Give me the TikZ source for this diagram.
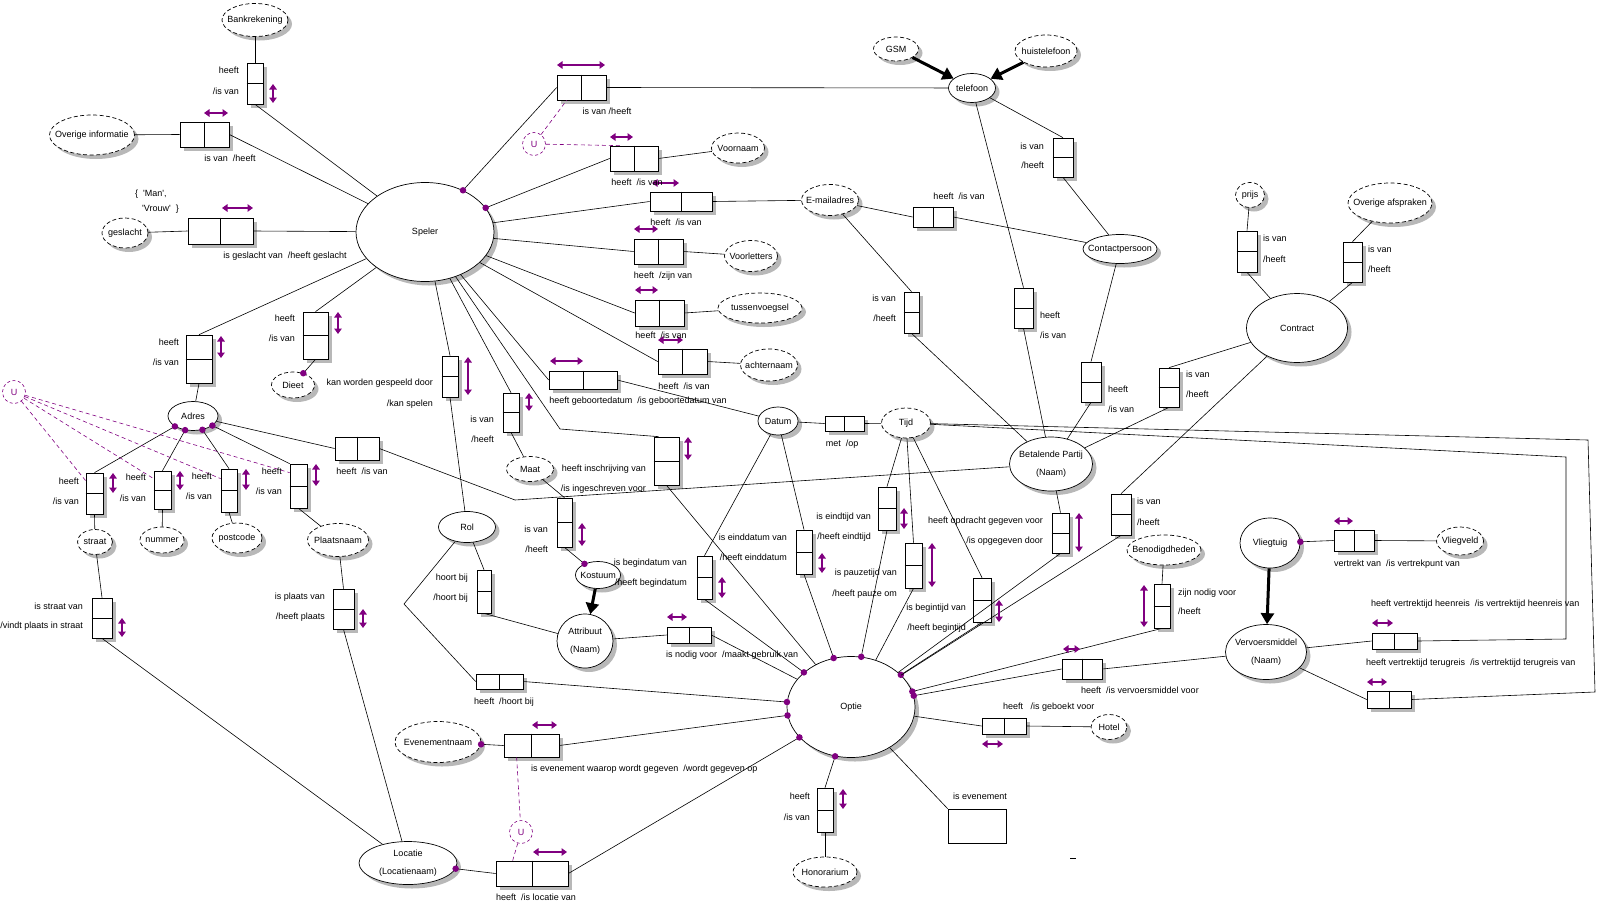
\documentclass[tikz,border=0pt]{standalone}
\usepackage{fontspec}
\setmainfont{Liberation Sans}
\usetikzlibrary{shapes.geometric,shadows,arrows.meta}
\definecolor{pur}{RGB}{128,0,128}
\newcommand\RH[5]{\node[rb,minimum width=#4pt,minimum height=#5pt] (#1) at (#2,#3) {}; \draw[ln] (#1.north) -- (#1.south);}
\newcommand\RV[5]{\node[rb,minimum width=#4pt,minimum height=#5pt] (#1) at (#2,#3) {}; \draw[ln] (#1.west) -- (#1.east);}
\newcommand\EN[7]{\node[#2,minimum width=#5pt,minimum height=#6pt] (#1) at (#3,#4) {}; \node[align=center,font=\fontsize{9}{18}\selectfont] (#1t) at (#1.center) {#7};}
\newcommand\Lb[5]{\node[anchor=#2] (#1) at (#3,#4) {#5};}
\newcommand\sq{\textquotesingle}
\begin{document}
\begin{tikzpicture}[x=1pt,y=-1pt,
  every node/.style={font=\fontsize{9}{10}\selectfont, inner sep=0pt},
  sh/.style={drop shadow={shadow xshift=4pt,shadow yshift=-4pt,opacity=1,fill=black!28}},
  ent/.style={ellipse,draw,fill=white,line width=0.7pt,sh},
  val/.style={ent,dash pattern=on 4pt off 2.5pt},
  rb/.style={rectangle,draw,fill=white,line width=0.7pt,sh},
  ln/.style={line width=0.6pt},
  parr/.style={pur,line width=1.3pt,{Triangle[length=5.5pt,width=7.5pt]}-{Triangle[length=5.5pt,width=7.5pt]}},
  dot/.style={circle,fill=pur,minimum size=6.5pt},
  udash/.style={pur,dash pattern=on 4pt off 3pt,line width=0.6pt},
  ucirc/.style={circle,draw=pur,dash pattern=on 3pt off 2.5pt,text=pur,minimum size=23pt,line width=0.6pt},
  subt/.style={line width=3pt,-{Triangle[length=11pt,width=13pt]}},
]
\useasboundingbox (0,0) rectangle (1597,913);
% ---------- entities / values
\EN{eSpeler}{ent}{425}{232}{138}{99}{Speler}
\EN{eOptie}{ent}{851}{707}{128}{101}{Optie}
\EN{eBank}{val}{255}{20}{66}{33}{Bankrekening}
\EN{eOvInf}{val}{92}{135}{85}{40}{Overige informatie}
\EN{eGesl}{val}{125}{233}{46}{30}{geslacht}
\EN{eVoorn}{val}{738}{148}{53}{30}{Voornaam}
\EN{eVoorl}{val}{751}{256}{53}{31}{Voorletters}
\EN{eTussen}{val}{760}{308}{84}{30}{tussenvoegsel}
\EN{eAchter}{val}{769}{365}{57}{32}{achternaam}
\EN{eEmail}{val}{830}{200}{57}{31}{E-mailadres}
\EN{eTel}{ent}{972}{88}{47}{29}{telefoon}
\EN{eGSM}{val}{896}{49}{45}{24}{GSM}
\EN{eHuis}{val}{1046}{51}{62}{32}{huistelefoon}
\EN{eCP}{ent}{1120}{249}{74}{29}{Contactpersoon}
\EN{ePrijs}{val}{1250}{195}{29}{25}{prijs}
\EN{eAfspr}{val}{1390}{203}{84}{40}{Overige afspraken}
\EN{eContract}{ent}{1297}{328}{101}{69}{Contract}
\EN{eAdres}{ent}{193}{416}{50}{29}{Adres}
\EN{eDieet}{val}{293}{385}{43}{26}{Dieet}
\EN{eStraat}{val}{95}{542}{35}{25}{straat}
\EN{eNummer}{val}{162}{540}{44}{26}{nummer}
\EN{ePostcode}{val}{237}{538}{50}{30}{postcode}
\EN{ePlaats}{val}{338}{540}{61}{33}{Plaatsnaam}
\EN{eRol}{ent}{467}{527}{57}{31}{Rol}
\EN{eMaat}{val}{530}{469}{47}{25}{Maat}
\EN{eKostuum}{ent}{598}{575}{45}{27}{Kostuum}
\EN{eAttr}{ent}{585}{641}{56}{54}{Attribuut\\(Naam)}
\EN{eDatum}{ent}{778}{421}{40}{28}{Datum}
\EN{eTijd}{val}{906}{423}{49}{30}{Tijd}
\EN{eBP}{ent}{1051}{464}{83}{54}{Betalende Partij\\(Naam)}
\EN{eBenod}{val}{1164}{550}{74}{30}{Benodigdheden}
\EN{eVliegtuig}{ent}{1270}{543}{60}{50}{Vliegtuig}
\EN{eVliegveld}{val}{1460}{541}{47}{28}{Vliegveld}
\EN{eVerv}{ent}{1266}{652}{81}{55}{Vervoersmiddel\\(Naam)}
\EN{eHotel}{val}{1109}{727}{36}{25}{Hotel}
\EN{eHonor}{val}{825}{872}{64}{30}{Honorarium}
\EN{eEven}{val}{438}{742}{86}{41}{Evenementnaam}
\EN{eLoc}{ent}{408}{863}{98}{43}{Locatie\\(Locatienaam)}
\node[ucirc] (U1) at (14,392) {U};
\node[ucirc] (U2) at (521,832) {U};
\node[ucirc] (U3) at (534,144) {U};
% ---------- role boxes
\RV{bBank}{255}{83.5}{16}{41}
\RH{bOvInf}{204.5}{134.5}{49}{25}
\RH{bGesl}{220.5}{231}{65}{26}
\RH{bTel}{581.5}{87.5}{49}{25}
\RH{bVoorn}{634}{158.5}{48}{25}
\RH{bEmailS}{681}{201.5}{62}{19}
\RH{bVoorl}{658.5}{251.5}{49}{25}
\RH{bTussen}{659.5}{313}{49}{26}
\RH{bAchter}{682.5}{361.5}{49}{25}
\RH{bGeb}{583}{380}{68}{18}
\RV{bDieet}{315.5}{335.5}{25}{47}
\RV{bSpeelt}{450}{376.5}{16}{41}
\RV{bAdres}{199}{359}{26}{48}
\RV{bStraat}{94.5}{493.5}{17}{41}
\RV{bNummer}{162.5}{490}{17}{38}
\RV{bPostcode}{229}{490.5}{16}{43}
\RV{bPlaats}{298.5}{486}{17}{44}
\RH{bAdresBP}{357}{448.5}{44}{23}
\RV{bInschr}{666.5}{461}{25}{48}
\RV{bMaat}{511}{412.5}{16}{39}
\RV{bKostuum}{564.5}{522.5}{15}{49}
\RV{bBegind}{704.5}{577.5}{15}{43}
\RV{bEindd}{804}{552}{16}{44}
\RV{bEindt}{887}{508.5}{18}{43}
\RV{bPauze}{913.5}{565.5}{17}{45}
\RV{bBegint}{982}{600}{18}{44}
\RV{bOpdr}{1060.5}{533}{17}{40}
\RV{bContrOpt}{1121}{514.5}{20}{41}
\RV{bBenod}{1162}{606}{16}{44}
\RH{bVervO}{1082}{669}{40}{20}
\RH{bHotel}{1004}{726}{44}{16}
\RV{bHonor}{825}{810}{16}{44}
\RH{bAttr}{689}{635}{44}{16}
\RV{bHoort}{484}{591.5}{14}{43}
\RH{bHeeftHoort}{499.5}{681.5}{47}{15}
\RH{bEven}{531.5}{745.5}{55}{23}
\RH{bLoc}{532}{873.5}{72}{25}
\RV{bStraatLoc}{102}{618}{20}{40}
\RV{bPlaatsLoc}{343.5}{609}{21}{40}
\RV{bPrijs}{1247}{251.5}{20}{41}
\RV{bAfspr}{1352.5}{262}{19}{40}
\RV{bContrBP}{1169}{387.5}{20}{39}
\RV{bTelBP}{1023.5}{308}{19}{40}
\RV{bEmailBP}{911.5}{312.5}{15}{41}
\RV{bCPBP}{1091}{382}{20}{40}
\RV{bTelCP}{1063}{157.5}{20}{39}
\RH{bEmailCP}{933}{217}{40}{20}
\RH{bMetOp}{844.5}{423.5}{39}{15}
\RH{bVliegveld}{1354}{540.5}{40}{21}
\RH{bHeen}{1394.5}{641}{45}{16}
\RH{bTerug}{1389}{699.5}{44}{17}
\node[draw,line width=0.7pt,minimum width=58pt,minimum height=34pt] (rEven) at (977,826) {};
% ---------- bend points
\coordinate (cInschr) at (560,429);
\coordinate (cAB) at (515,500);
\coordinate (cRol) at (404,604);
\coordinate (cH1) at (1566,639);
\coordinate (cH2) at (1566,457);
\coordinate (cT1) at (1595,692);
\coordinate (cT2) at (1588,440);
% ---------- connectors
\begin{scope}[ln]
\draw (eBank) -- (bBank.north);
\draw (bBank.south) -- (eSpeler);
\draw (eOvInf) -- (bOvInf.west);
\draw (bOvInf.east) -- (eSpeler);
\draw (eGesl) -- (bGesl.west);
\draw (bGesl.east) -- (eSpeler);
\draw (bTel.west) -- (eSpeler) node[dot,pos=1] (d1) {};
\draw (bTel.east) -- (eTel);
\draw (bVoorn.west) -- (eSpeler) node[dot,pos=1] (d2) {};
\draw (bVoorn.east) -- (eVoorn);
\draw (bEmailS.west) -- (eSpeler);
\draw (bEmailS.east) -- (eEmail);
\draw (bVoorl.west) -- (eSpeler);
\draw (bVoorl.east) -- (eVoorl);
\draw (bTussen.west) -- (eSpeler);
\draw (bTussen.east) -- (eTussen);
\draw (bAchter.west) -- (eSpeler);
\draw (bAchter.east) -- (eAchter);
\draw (bGeb.west) -- (eSpeler);
\draw (bGeb.east) -- (eDatum);
\draw (bDieet.north) -- (eSpeler);
\draw (bDieet.south) -- (eDieet) node[dot,pos=1] (d3) {};
\draw (bSpeelt.north) -- (eSpeler);
\draw (bSpeelt.south) -- (eRol);
\draw (bAdres.north) -- (eSpeler);
\draw (bAdres.south) -- (eAdres);
\draw (bMaat.north) -- (eSpeler);
\draw (bMaat.south) -- (eMaat);
\draw ([xshift=5pt]bInschr.north west) -- (cInschr) -- (eSpeler);
\draw (bInschr.south) -- (eOptie);
\draw (bStraat.north) -- (eAdres) node[dot,pos=1] (d4) {};
\draw (bStraat.south) -- (eStraat);
\draw (bNummer.north) -- (eAdres) node[dot,pos=1] (d5) {};
\draw (bNummer.south) -- (eNummer);
\draw (bPostcode.north) -- (eAdres) node[dot,pos=1] (d6) {};
\draw (bPostcode.south) -- (ePostcode);
\draw (bPlaats.north west) -- (eAdres) node[dot,pos=1] (d7) {};
\draw (bPlaats.south) -- (ePlaats);
\draw (eAdres) -- (bAdresBP.west);
\draw (bAdresBP.east) -- (cAB) -- (eBP);
\draw (eStraat) -- (bStraatLoc.north);
\draw (bStraatLoc.south) -- (eLoc);
\draw (ePlaats) -- (bPlaatsLoc.north);
\draw (bPlaatsLoc.south) -- (eLoc);
\draw (bLoc.west) -- (eLoc) node[dot,pos=1] (d8) {};
\draw (bLoc.east) -- (eOptie) node[dot,pos=1] (d9) {};
\draw (bEven.west) -- (eEven) node[dot,pos=1] (d10) {};
\draw (bEven.east) -- (eOptie) node[dot,pos=1] (d11) {};
\draw (eMaat) -- (bKostuum.north);
\draw (bKostuum.south) -- (eKostuum) node[dot,pos=1] (d12) {};
\draw (eRol) -- (bHoort.north);
\draw (bHoort.south) -- (eAttr);
\draw (eRol) -- (cRol) -- (bHeeftHoort.west);
\draw (bHeeftHoort.east) -- (eOptie) node[dot,pos=1] (d13) {};
\draw (eAttr) -- (bAttr.west);
\draw (bAttr.east) -- (eOptie);
\draw (eDatum) -- (bBegind.north);
\draw (bBegind.south) -- (eOptie) node[dot,pos=1] (d14) {};
\draw (eDatum) -- (bEindd.north);
\draw (bEindd.south) -- (eOptie) node[dot,pos=1] (d15) {};
\draw (eDatum) -- (bMetOp.west);
\draw (bMetOp.east) -- (eTijd);
\draw (eTijd) -- (bEindt.north);
\draw (bEindt.south) -- (eOptie) node[dot,pos=1] (d16) {};
\draw (eTijd) -- (bPauze.north);
\draw (bPauze.south) -- (eOptie);
\draw (eTijd) -- (bBegint.north);
\draw (bBegint.south) -- (eOptie) node[dot,pos=1] (d17) {};
\draw (eBP) -- (bOpdr.north);
\draw (bOpdr.south) -- (eOptie);
\draw (eContract) -- (bContrOpt.north);
\draw (bContrOpt.south) -- (eOptie);
\draw (eTel) -- (bTelBP.north);
\draw (bTelBP.south) -- (eBP);
\draw (eEmail) -- (bEmailBP.north);
\draw (bEmailBP.south) -- (eBP);
\draw (eCP) -- (bCPBP.north);
\draw (bCPBP.south) -- (eBP);
\draw (eContract) -- (bContrBP.north);
\draw (bContrBP.south) -- (eBP);
\draw (eTel) -- (bTelCP.north);
\draw (bTelCP.south) -- (eCP);
\draw (eEmail) -- (bEmailCP.west);
\draw (bEmailCP.east) -- (eCP);
\draw (ePrijs) -- (bPrijs.north);
\draw (bPrijs.south) -- (eContract);
\draw (eAfspr) -- (bAfspr.north);
\draw (bAfspr.south) -- (eContract);
\draw (eBenod) -- (bBenod.north);
\draw (bBenod.south) -- (eOptie) node[dot,pos=1] (d18) {};
\draw (bVervO.west) -- (eOptie) node[dot,pos=1] (d19) {};
\draw (bVervO.east) -- (eVerv);
\draw (eOptie) -- (bHotel.west);
\draw (bHotel.east) -- (eHotel);
\draw (bHonor.north) -- (eOptie) node[dot,pos=1] (d20) {};
\draw (bHonor.south) -- (eHonor);
\draw (eOptie) -- (rEven.north west);
\draw (bVliegveld.west) -- (eVliegtuig) node[dot,pos=1] (d21) {};
\draw (bVliegveld.east) -- (eVliegveld);
\draw (eVerv) -- (bHeen.west);
\draw (bHeen.east) -- (cH1) -- (cH2) -- (eTijd);
\draw (eVerv) -- (bTerug.west);
\draw (bTerug.east) -- (cT1) -- (cT2) -- (eTijd);
\draw (1070,858) -- (1076,858);
\end{scope}
\draw[subt] (eKostuum) -- (eAttr);
\draw[subt] (eGSM) -- (eTel);
\draw[subt] (eHuis) -- (eTel);
\draw[subt] (eVliegtuig) -- (eVerv);
% ---------- uniqueness constraints (dashed)
\draw[udash] (U1) -- ([yshift=-8pt]bStraat.north west);
\draw[udash] (U1) -- ([yshift=-8pt]bNummer.north west);
\draw[udash] (U1) -- ([yshift=-10pt]bPostcode.north west);
\draw[udash] (U1) -- ([yshift=-9pt]bPlaats.north west);
\draw[udash] ([xshift=13pt]bEven.south west) -- (U2);
\draw[udash] (U2) -- ([xshift=17pt]bLoc.north west);
\draw[udash] (U3) -- ([xshift=10pt]bTel.south west);
\draw[udash] (U3) -- ([xshift=12pt]bVoorn.north west);
% ---------- purple arrows
\draw[parr] (273,84) -- (273,103);
\draw[parr] (204,113) -- (228,113);
\draw[parr] (222,208) -- (253,208);
\draw[parr] (557,65) -- (605,65);
\draw[parr] (610,137) -- (633,137);
\draw[parr] (652,183) -- (679,183);
\draw[parr] (634,229) -- (658,229);
\draw[parr] (635,290) -- (658,290);
\draw[parr] (658,340) -- (683,340);
\draw[parr] (550,361) -- (583,361);
\draw[parr] (338,312) -- (338,334);
\draw[parr] (468,357) -- (468,395);
\draw[parr] (221,336) -- (221,358);
\draw[parr] (113,473) -- (113,493);
\draw[parr] (180,471) -- (180,490);
\draw[parr] (246,469) -- (246,490);
\draw[parr] (316,464) -- (316,486);
\draw[parr] (688,437) -- (688,460);
\draw[parr] (529,393) -- (529,411);
\draw[parr] (582,523) -- (582,546);
\draw[parr] (722,577) -- (722,598);
\draw[parr] (822,553) -- (822,573);
\draw[parr] (904,508) -- (904,529);
\draw[parr] (932,543) -- (932,587);
\draw[parr] (999,600) -- (999,622);
\draw[parr] (1079,513) -- (1079,552);
\draw[parr] (1144,585) -- (1144,627);
\draw[parr] (1063,649) -- (1080,649);
\draw[parr] (982,744) -- (1003,744);
\draw[parr] (843,789) -- (843,809);
\draw[parr] (667,617) -- (687,617);
\draw[parr] (532,725) -- (557,725);
\draw[parr] (533,852) -- (567,852);
\draw[parr] (1372,623) -- (1393,623);
\draw[parr] (1367,682) -- (1387,682);
\draw[parr] (1334,521) -- (1353,521);
\draw[parr] (122,618) -- (122,637);
\draw[parr] (363,609) -- (363,628);
% ---------- labels
\Lb{t1}{mid east}{239}{71}{heeft}
\Lb{t2}{mid east}{239}{92}{/is van}
\Lb{t3}{mid}{230}{159}{is van\ \ /heeft}
\Lb{t4}{mid}{285}{256}{is geslacht van\ \ /heeft geslacht}
\Lb{t5}{mid west}{135}{194}{\{\ \ \sq Man\sq,}
\Lb{t6}{mid west}{142}{209}{\sq Vrouw\sq\ \ \}}
\Lb{t7}{mid}{607}{112}{is van /heeft}
\Lb{t8}{mid}{637}{183}{heeft\ \ /is van}
\Lb{t9}{mid}{676}{223}{heeft\ \ /is van}
\Lb{t10}{mid}{663}{276}{heeft\ \ /zijn van}
\Lb{t11}{mid}{661}{336}{heeft\ \ /is van}
\Lb{t12}{mid}{684}{387}{heeft\ \ /is van}
\Lb{t13}{mid}{638}{401}{heeft geboortedatum\ \ /is geboortedatum van}
\Lb{t14}{mid east}{295}{319}{heeft}
\Lb{t15}{mid east}{295}{339}{/is van}
\Lb{t16}{mid east}{433}{383}{kan worden gespeeld door}
\Lb{t17}{mid east}{433}{404}{/kan spelen}
\Lb{t18}{mid east}{179}{343}{heeft}
\Lb{t19}{mid east}{179}{363}{/is van}
\Lb{t20}{mid east}{79}{482}{heeft}
\Lb{t21}{mid east}{79}{502}{/is van}
\Lb{t22}{mid east}{146}{478}{heeft}
\Lb{t23}{mid east}{146}{499}{/is van}
\Lb{t24}{mid east}{212}{477}{heeft}
\Lb{t25}{mid east}{212}{497}{/is van}
\Lb{t26}{mid east}{282}{472}{heeft}
\Lb{t27}{mid east}{282}{492}{/is van}
\Lb{t28}{mid}{362}{472}{heeft\ \ /is van}
\Lb{t29}{mid east}{494}{420}{is van}
\Lb{t30}{mid east}{494}{440}{/heeft}
\Lb{t31}{mid east}{646}{469}{heeft inschrijving van}
\Lb{t32}{mid east}{646}{489}{/is ingeschreven voor}
\Lb{t33}{mid east}{548}{530}{is van}
\Lb{t34}{mid east}{548}{550}{/heeft}
\Lb{t35}{mid east}{468}{578}{hoort bij}
\Lb{t36}{mid east}{468}{598}{/hoort bij}
\Lb{t37}{mid}{504}{702}{heeft\ \ /hoort bij}
\Lb{t38}{mid west}{666}{655}{is nodig voor\ \ /maakt gebruik van}
\Lb{t39}{mid east}{687}{563}{is begindatum van}
\Lb{t40}{mid east}{687}{583}{/heeft begindatum}
\Lb{t41}{mid east}{787}{538}{is einddatum van}
\Lb{t42}{mid east}{787}{558}{/heeft einddatum}
\Lb{t43}{mid}{842}{444}{met\ \ /op}
\Lb{t44}{mid east}{871}{517}{is eindtijd van}
\Lb{t45}{mid east}{871}{537}{/heeft eindtijd}
\Lb{t46}{mid east}{897}{573}{is pauzetijd van}
\Lb{t47}{mid east}{897}{594}{/heeft pauze om}
\Lb{t48}{mid east}{966}{608}{is begintijd van}
\Lb{t49}{mid east}{966}{628}{/heeft begintijd}
\Lb{t50}{mid east}{1043}{521}{heeft opdracht gegeven voor}
\Lb{t51}{mid east}{1043}{541}{/is opgegeven door}
\Lb{t52}{mid west}{1137}{502}{is van}
\Lb{t53}{mid west}{1137}{523}{/heeft}
\Lb{t54}{mid west}{1178}{593}{zijn nodig voor}
\Lb{t55}{mid west}{1178}{612}{/heeft}
\Lb{t56}{mid west}{1081}{691}{heeft\ \ /is vervoersmiddel voor}
\Lb{t57}{mid west}{1003}{707}{heeft\ \ \ /is geboekt voor}
\Lb{t58}{mid east}{810}{797}{heeft}
\Lb{t59}{mid east}{810}{818}{/is van}
\Lb{t60}{mid}{980}{797}{is evenement}
\Lb{t61}{mid west}{531}{769}{is evenement waarop wordt gegeven\ \ /wordt gegeven op}
\Lb{t62}{mid}{536}{898}{heeft\ \ /is locatie van}
\Lb{t63}{mid east}{83}{607}{is straat van}
\Lb{t64}{mid east}{83}{626}{/vindt plaats in straat}
\Lb{t65}{mid east}{325}{597}{is plaats van}
\Lb{t66}{mid east}{325}{617}{/heeft plaats}
\Lb{t67}{mid west}{1263}{239}{is van}
\Lb{t68}{mid west}{1263}{260}{/heeft}
\Lb{t69}{mid west}{1368}{250}{is van}
\Lb{t70}{mid west}{1368}{270}{/heeft}
\Lb{t71}{mid west}{1186}{375}{is van}
\Lb{t72}{mid west}{1186}{395}{/heeft}
\Lb{t73}{mid west}{1040}{316}{heeft}
\Lb{t74}{mid west}{1040}{336}{/is van}
\Lb{t75}{mid east}{896}{299}{is van}
\Lb{t76}{mid east}{896}{319}{/heeft}
\Lb{t77}{mid west}{1108}{390}{heeft}
\Lb{t78}{mid west}{1108}{410}{/is van}
\Lb{t79}{mid east}{1044}{147}{is van}
\Lb{t80}{mid east}{1044}{166}{/heeft}
\Lb{t81}{mid}{959}{197}{heeft\ \ /is van}
\Lb{t82}{mid west}{1334}{564}{vertrekt van\ \ /is vertrekpunt van}
\Lb{t83}{mid west}{1371}{604}{heeft vertrektijd heenreis\ \ /is vertrektijd heenreis van}
\Lb{t84}{mid west}{1366}{663}{heeft vertrektijd terugreis\ \ /is vertrektijd terugreis van}
\end{tikzpicture}
\end{document}
